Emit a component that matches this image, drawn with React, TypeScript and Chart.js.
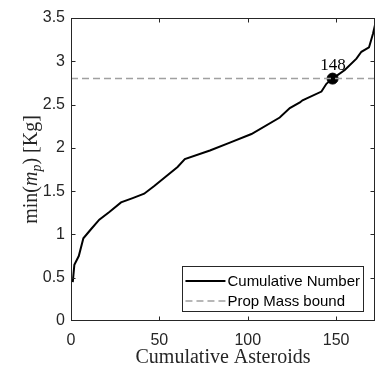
import React, { useEffect, useRef } from 'react';
import { Chart, registerables } from 'chart.js';

Chart.register(...registerables);

// ---- data ----
const asteroidIndex = [1, 1.9, 4.4, 7.0, 11.3, 16, 21.7, 28.3, 34.9, 41.4, 47.1, 53.7, 60.3, 64.4, 78.6, 89.9, 102.1, 118.1, 123.8, 129.5, 131, 141.7, 144.5, 148, 154.9, 161.5, 164.3, 168.6, 170.9, 172];
const minMass = [0.45, 0.65, 0.75, 0.955, 1.06, 1.17, 1.26, 1.37, 1.42, 1.47, 1.56, 1.67, 1.78, 1.87, 1.97, 2.06, 2.16, 2.35, 2.46, 2.525, 2.55, 2.65, 2.74, 2.8, 2.9, 3.03, 3.11, 3.16, 3.32, 3.42];
const boundValue = 2.8;
const boundIndex = 148;
const xRange = [0, 172];
const yRange = [0, 3.5];
const xTicks = [0, 50, 100, 150];
const yTicks = [0, 0.5, 1, 1.5, 2, 2.5, 3, 3.5];
const seriesLabels = ['Cumulative Number', 'Prop Mass bound'];
const xTitle = 'Cumulative Asteroids';

const AXIS = '#262626';
const SANS = '"Liberation Sans", Arial, sans-serif';
const SERIF = '"Liberation Serif", "Times New Roman", serif';

const zeroPadding = () => ({ left: 0, top: 0, right: 0, bottom: 0 });

const framePlugin = {
  id: 'frame',
  afterDatasetsDraw(chart: any) {
    const { ctx, chartArea: a, scales } = chart;
    ctx.save();
    ctx.strokeStyle = AXIS;
    ctx.lineWidth = 1;
    const L = Math.round(a.left) + 0.5, R = Math.round(a.right) - 0.5;
    const T = Math.round(a.top) + 0.5, B = Math.round(a.bottom) - 0.5;
    ctx.strokeRect(L, T, R - L, B - T);
    const tl = 4;
    ctx.beginPath();
    xTicks.forEach((v) => {
      const x = Math.round(scales.x.getPixelForValue(v)) + 0.5;
      if (x <= L + 1 || x >= R - 1) return;
      ctx.moveTo(x, B); ctx.lineTo(x, B - tl);
      ctx.moveTo(x, T); ctx.lineTo(x, T + tl);
    });
    yTicks.forEach((v) => {
      const y = Math.round(scales.y.getPixelForValue(v)) + 0.5;
      if (y <= T + 1 || y >= B - 1) return;
      ctx.moveTo(L, y); ctx.lineTo(L + tl, y);
      ctx.moveTo(R, y); ctx.lineTo(R - tl, y);
    });
    ctx.stroke();
    ctx.restore();
  },
};

const annotPlugin = {
  id: 'annot',
  afterDraw(chart: any) {
    const { ctx, chartArea: a, scales } = chart;
    ctx.save();
    // marker label
    const px = scales.x.getPixelForValue(boundIndex);
    const py = scales.y.getPixelForValue(boundValue);
    ctx.fillStyle = '#000';
    ctx.font = `17px ${SERIF}`;
    ctx.textAlign = 'center';
    ctx.textBaseline = 'alphabetic';
    ctx.fillText(String(boundIndex), px + 0.5, py - 8.5);

    // y title with italic m and subscript p
    const pieces = [
      { t: 'min(', f: `20px ${SERIF}`, dy: 0 },
      { t: 'm', f: `italic 20px ${SERIF}`, dy: 0 },
      { t: 'p', f: `italic 14px ${SERIF}`, dy: 4 },
      { t: ') [Kg]', f: `20px ${SERIF}`, dy: 0 },
    ];
    let total = 0;
    const widths = pieces.map((p) => { ctx.font = p.f; const w = ctx.measureText(p.t).width; total += w; return w; });
    ctx.translate(37, (a.top + a.bottom) / 2);
    ctx.rotate(-Math.PI / 2);
    ctx.textAlign = 'left';
    ctx.fillStyle = AXIS;
    let cx = -total / 2;
    pieces.forEach((p, i) => { ctx.font = p.f; ctx.fillText(p.t, cx, p.dy); cx += widths[i]; });
    ctx.restore();

    // legend
    ctx.save();
    ctx.font = `15px ${SANS}`;
    const tw = Math.max(...seriesLabels.map((s) => ctx.measureText(s).width));
    const bw = 45 + tw + 3;
    const bh = 45;
    const right = Math.round(a.right) - 12;
    const bottom = Math.round(a.bottom) - 10;
    const left = right - bw;
    const top = bottom - bh;
    ctx.fillStyle = '#fff';
    ctx.fillRect(left, top, bw, bh);
    ctx.strokeStyle = AXIS;
    ctx.lineWidth = 1;
    ctx.strokeRect(Math.round(left) + 0.5, top + 0.5, Math.round(bw), bh);
    const ds = chart.data.datasets;
    const rows = [ds.find((d: any) => d.label === seriesLabels[0]), ds.find((d: any) => d.label === seriesLabels[1])];
    rows.forEach((d: any, i: number) => {
      const y = top + 15 + i * 20;
      ctx.beginPath();
      ctx.strokeStyle = d.borderColor;
      ctx.lineWidth = d.borderWidth;
      ctx.setLineDash(d.borderDash || []);
      ctx.moveTo(left + 3, y);
      ctx.lineTo(left + 43, y);
      ctx.stroke();
      ctx.setLineDash([]);
      ctx.fillStyle = '#000';
      ctx.textAlign = 'left';
      ctx.textBaseline = 'middle';
      ctx.fillText(d.label, left + 45, y + 0.5);
    });
    ctx.restore();
  },
};

export default function App() {
  const ref = useRef<HTMLCanvasElement | null>(null);
  useEffect(() => {
    const canvas = ref.current;
    if (!canvas) return;
    const curve = asteroidIndex.map((x, i) => ({ x, y: minMass[i] }));
    const chart = new Chart(canvas, {
      type: 'line',
      data: {
        datasets: [
          {
            label: seriesLabels[1],
            data: [{ x: xRange[0], y: boundValue }, { x: xRange[1], y: boundValue }],
            borderColor: '#a0a0a0',
            borderWidth: 1.5,
            borderDash: [7, 4],
            pointRadius: 0,
            order: 0,
          },
          {
            label: 'marker',
            data: [{ x: boundIndex, y: boundValue }],
            showLine: false,
            pointRadius: 5.5,
            pointBackgroundColor: '#000',
            pointBorderColor: '#000',
            pointBorderWidth: 1,
            order: 1,
          },
          {
            label: seriesLabels[0],
            data: curve,
            borderColor: '#000',
            borderWidth: 2,
            pointRadius: 0,
            tension: 0,
            order: 2,
          },
        ],
      },
      options: {
        responsive: false,
        animation: false,
        devicePixelRatio: 1,
        layout: { autoPadding: false, padding: { top: 18, right: 1, left: 0, bottom: 0 } },
        plugins: { legend: { display: false }, tooltip: { enabled: false }, title: { display: false } },
        scales: {
          x: {
            type: 'linear',
            min: xRange[0],
            max: xRange[1],
            afterBuildTicks: (s: any) => { s.ticks = xTicks.map((v) => ({ value: v })); },
            afterFit: (s: any) => { s.height = 48; s.paddingLeft = 0; s.paddingRight = 0; s.getPadding = zeroPadding; },
            grid: { display: false, drawTicks: false, tickLength: 0 },
            border: { display: false },
            ticks: { font: { family: SANS, size: 16 }, color: AXIS, padding: 10, maxRotation: 0, callback: (v: any) => String(v) },
            title: { display: true, text: xTitle, font: { family: SERIF, size: 20 }, color: AXIS, padding: { top: 0, bottom: -1 } },
          },
          y: {
            type: 'linear',
            min: yRange[0],
            max: yRange[1],
            afterBuildTicks: (s: any) => { s.ticks = yTicks.map((v) => ({ value: v })); },
            afterFit: (s: any) => { s.width = 71; s.getPadding = zeroPadding; },
            grid: { display: false, drawTicks: false, tickLength: 0 },
            border: { display: false },
            ticks: { font: { family: SANS, size: 16 }, color: AXIS, padding: 6, callback: (v: any) => String(v) },
          },
        },
      },
      plugins: [framePlugin, annotPlugin],
    } as any);
    return () => chart.destroy();
  }, []);
  return (
    <div style={{ position: 'fixed', left: 0, top: 0, width: 376, height: 369, background: '#fff' }}>
      <canvas ref={ref} width={376} height={369} style={{ display: 'block', width: 376, height: 369 }} />
    </div>
  );
}
